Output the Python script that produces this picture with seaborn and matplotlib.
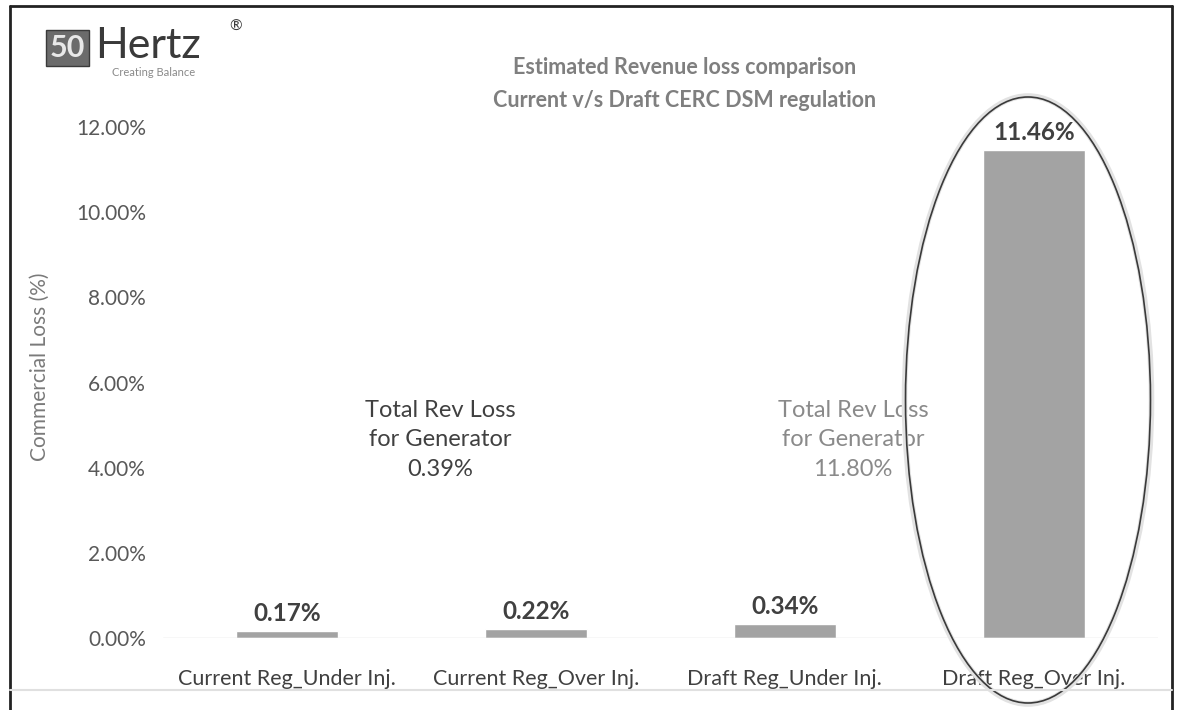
import matplotlib
matplotlib.use("Agg")
import matplotlib.pyplot as plt
import seaborn as sns
import pandas as pd
from matplotlib.patches import Ellipse
from matplotlib.lines import Line2D
from matplotlib.ticker import FuncFormatter

categories = ["Current Reg_Under Inj.", "Current Reg_Over Inj.",
              "Draft Reg_Under Inj.", "Draft Reg_Over Inj."]
loss_pct = [0.17, 0.22, 0.34, 11.46]
total_current = 0.39
total_draft = 11.80
y_ticks = [0, 2, 4, 6, 8, 10, 12]

sns.set_theme(style="white")
plt.rcParams['font.family'] = ['Lato', 'DejaVu Sans']

W, H = 1182, 710
fig = plt.figure(figsize=(11.82, 7.10), dpi=100)
ax = fig.add_axes([0.1375, 0.1014, 0.8425, 0.7197])

df = pd.DataFrame({"cat": categories, "val": loss_pct})
sns.barplot(data=df, x="cat", y="val", color="#a3a3a3", saturation=1,
            width=0.41, ax=ax)

ax.set_ylim(0, 12)
ax.set_xlim(-0.5, 3.5)
ax.set_yticks(y_ticks)
ax.yaxis.set_major_formatter(FuncFormatter(lambda v, p: f"{v:.2f}%"))
ax.tick_params(axis="y", labelsize=15, labelcolor="#595959", length=0, pad=12)
ax.tick_params(axis="x", labelsize=15.5, labelcolor="#404040", length=0, pad=22)
ax.set_xlabel("")
ax.set_ylabel("Commercial Loss (%)", fontsize=15, color="#7a7a7a")
ax.yaxis.set_label_coords(-0.113, 0.53)
for s in ax.spines.values():
    s.set_visible(False)
ax.axhline(0, color="#d9d9d9", lw=1)

for i, v in enumerate(loss_pct):
    ax.annotate(f"{v:.2f}%", (i, v), xytext=(0, 4), textcoords="offset points",
                ha="center", va="bottom", fontsize=17.5, fontweight="bold",
                color="#404040")

ax.text(0.614, 4.65, f"Total Rev Loss\nfor Generator\n{total_current:.2f}%",
        ha="center", va="center", fontsize=17, color="#404040", linespacing=1.5)
ax.text(2.273, 4.65, f"Total Rev Loss\nfor Generator\n{total_draft:.2f}%",
        ha="center", va="center", fontsize=17, color="#8a8a8a", linespacing=1.5)

# Title
fig.text(685 / W, 1 - 84 / H, "Estimated Revenue loss comparison\nCurrent v/s Draft CERC DSM regulation",
         ha="center", va="center", fontsize=15.5, fontweight="bold", color="#7f7f7f",
         linespacing=1.75)

# Logo
fig.text(50 / W, 1 - 48 / H, "50", ha="left", va="center", fontsize=22,
         fontweight="bold", color="#e8e8e8",
         bbox=dict(boxstyle="square,pad=0.12", fc="#6b6b6b", ec="#3a3a3a", lw=1))
fig.text(95 / W, 1 - 46 / H, "Hertz", ha="left", va="center", fontsize=31,
         color="#3a3a3a")
fig.text(229 / W, 1 - 27 / H, "®", ha="left", va="center", fontsize=11,
         color="#3a3a3a")
fig.text(112 / W, 1 - 72 / H, "Creating Balance", ha="left", va="center",
         fontsize=8, color="#8a8a8a")

# Highlight ellipse
ell_shadow = Ellipse((1028 / W, 1 - 400 / H), 247 / W, 608 / H,
                     transform=fig.transFigure, fill=False, ec="#e2e2e2", lw=4)
ell = Ellipse((1028 / W, 1 - 400 / H), 245 / W, 606 / H,
              transform=fig.transFigure, fill=False, ec="#3a3a3a", lw=1.2)
fig.patches.extend([ell_shadow, ell])

# Slide frame
fig.lines.append(Line2D([10 / W, 10 / W], [0, 1 - 6 / H], transform=fig.transFigure,
                        color="#222222", lw=2))
fig.lines.append(Line2D([10 / W, 1172 / W], [1 - 6 / H, 1 - 6 / H],
                        transform=fig.transFigure, color="#222222", lw=2))
fig.lines.append(Line2D([1172 / W, 1172 / W], [0, 1 - 6 / H], transform=fig.transFigure,
                        color="#222222", lw=2))
fig.lines.append(Line2D([10 / W, 1172 / W], [1 - 690 / H, 1 - 690 / H],
                        transform=fig.transFigure, color="#e0e0e0", lw=1.5))

fig.savefig("out.png", dpi=100)
